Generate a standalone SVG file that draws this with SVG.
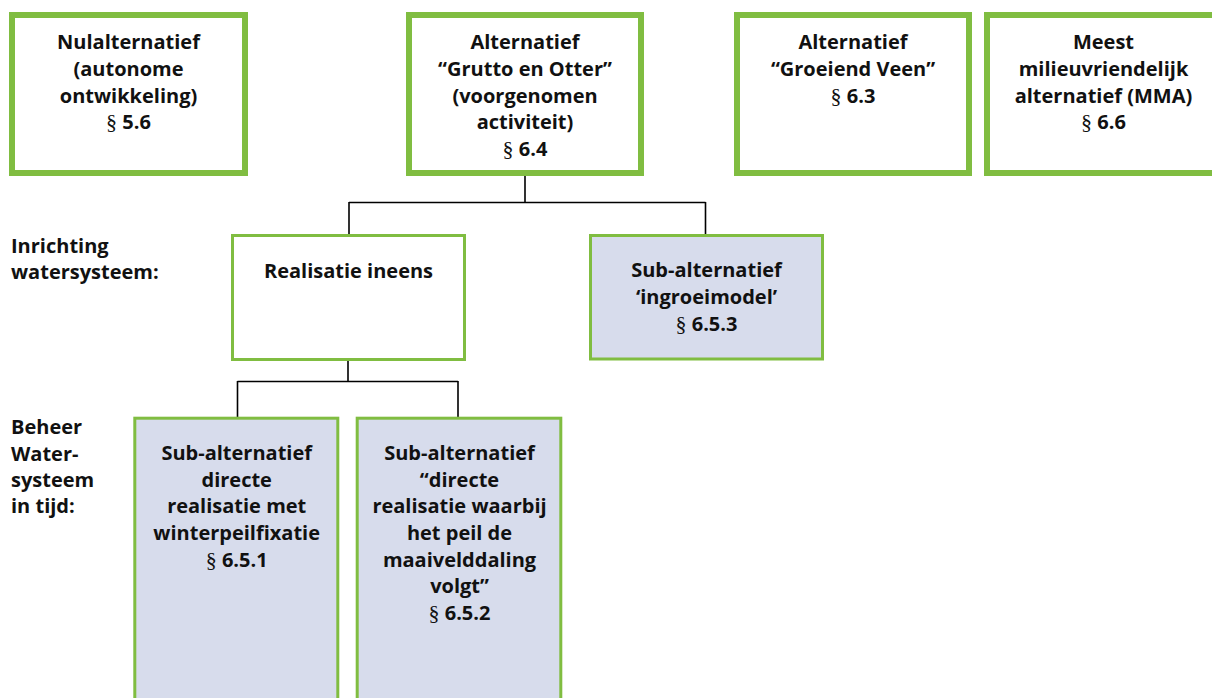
<svg xmlns="http://www.w3.org/2000/svg" width="1212" height="698" viewBox="0 0 1212 698">
<style>
.big{fill:#ffffff;stroke:#80bd41;stroke-width:6}
.mid{fill:#ffffff;stroke:#80bd41;stroke-width:3}
.sub{fill:#d7dcec;stroke:#80bd41;stroke-width:3}
.t{font-family:"Open Sans","Liberation Sans",sans-serif;font-weight:700;font-size:20px;fill:#111111;text-anchor:middle}
.l{font-family:"Open Sans","Liberation Sans",sans-serif;font-weight:700;font-size:20px;fill:#111111}
.s{font-family:"Liberation Serif",serif;font-weight:400;font-size:22px}
.c{fill:none;stroke:#000000;stroke-width:1.6}
</style>
<rect width="1212" height="698" fill="#ffffff"/>
<g id="connectors">
<path class="c" d="M525 176 V202.5 M349 202.5 H705.5 M349 202 V234 M705.5 202 V234"/>
<path class="c" d="M348 360 V381.5 M237.5 381.5 H458 M237.5 381 V417 M458 381 V417"/>
</g>
<g id="nulalternatief">
<rect class="big" x="12" y="15" width="233" height="158"/>
<text class="t" x="128.5" y="49">Nulalternatief</text>
<text class="t" x="128.5" y="76">(autonome</text>
<text class="t" x="128.5" y="102.5">ontwikkeling)</text>
<text class="t" x="128.5" y="129"><tspan class="s">§</tspan> 5.6</text>
</g>
<g id="grutto-otter">
<rect class="big" x="409" y="15" width="232" height="158"/>
<text class="t" x="525" y="49">Alternatief</text>
<text class="t" x="525" y="76">“Grutto en Otter”</text>
<text class="t" x="525" y="102.5">(voorgenomen</text>
<text class="t" x="525" y="129">activiteit)</text>
<text class="t" x="525" y="156"><tspan class="s">§</tspan> 6.4</text>
</g>
<g id="groeiend-veen">
<rect class="big" x="737" y="15" width="232" height="158"/>
<text class="t" x="853" y="49">Alternatief</text>
<text class="t" x="853" y="76">“Groeiend Veen”</text>
<text class="t" x="853" y="102.5"><tspan class="s">§</tspan> 6.3</text>
</g>
<g id="mma">
<rect class="big" x="987" y="15" width="232" height="158"/>
<text class="t" x="1103.5" y="49">Meest</text>
<text class="t" x="1103.5" y="76">milieuvriendelijk</text>
<text class="t" x="1103.5" y="102.5">alternatief (MMA)</text>
<text class="t" x="1103.5" y="129"><tspan class="s">§</tspan> 6.6</text>
</g>
<g id="label-inrichting">
<text class="l" x="11" y="252.5">Inrichting</text>
<text class="l" x="11" y="279">watersysteem:</text>
</g>
<g id="realisatie-ineens">
<rect class="mid" x="232.5" y="235.5" width="232" height="124"/>
<text class="t" x="348.5" y="277.5">Realisatie ineens</text>
</g>
<g id="ingroeimodel">
<rect class="sub" x="590.5" y="235.5" width="232" height="123.5"/>
<text class="t" x="706.5" y="277">Sub-alternatief</text>
<text class="t" x="706.5" y="304">‘ingroeimodel’</text>
<text class="t" x="706.5" y="330.5"><tspan class="s">§</tspan> 6.5.3</text>
</g>
<g id="label-beheer">
<text class="l" x="11" y="434">Beheer</text>
<text class="l" x="11" y="460.5">Water-</text>
<text class="l" x="11" y="487">systeem</text>
<text class="l" x="11" y="513">in tijd:</text>
</g>
<g id="winterpeilfixatie">
<rect class="sub" x="134.8" y="418.2" width="203" height="300"/>
<text class="t" x="236.7" y="460">Sub-alternatief</text>
<text class="t" x="236.7" y="486.7">directe</text>
<text class="t" x="236.7" y="513">realisatie met</text>
<text class="t" x="236.7" y="540">winterpeilfixatie</text>
<text class="t" x="236.7" y="566.7"><tspan class="s">§</tspan> 6.5.1</text>
</g>
<g id="maaivelddaling">
<rect class="sub" x="357.2" y="418.2" width="203.6" height="300"/>
<text class="t" x="459.5" y="460">Sub-alternatief</text>
<text class="t" x="459.5" y="486.7">“directe</text>
<text class="t" x="459.5" y="513">realisatie waarbij</text>
<text class="t" x="459.5" y="540">het peil de</text>
<text class="t" x="459.5" y="566.7">maaivelddaling</text>
<text class="t" x="459.5" y="593">volgt”</text>
<text class="t" x="459.5" y="620"><tspan class="s">§</tspan> 6.5.2</text>
</g>
</svg>
